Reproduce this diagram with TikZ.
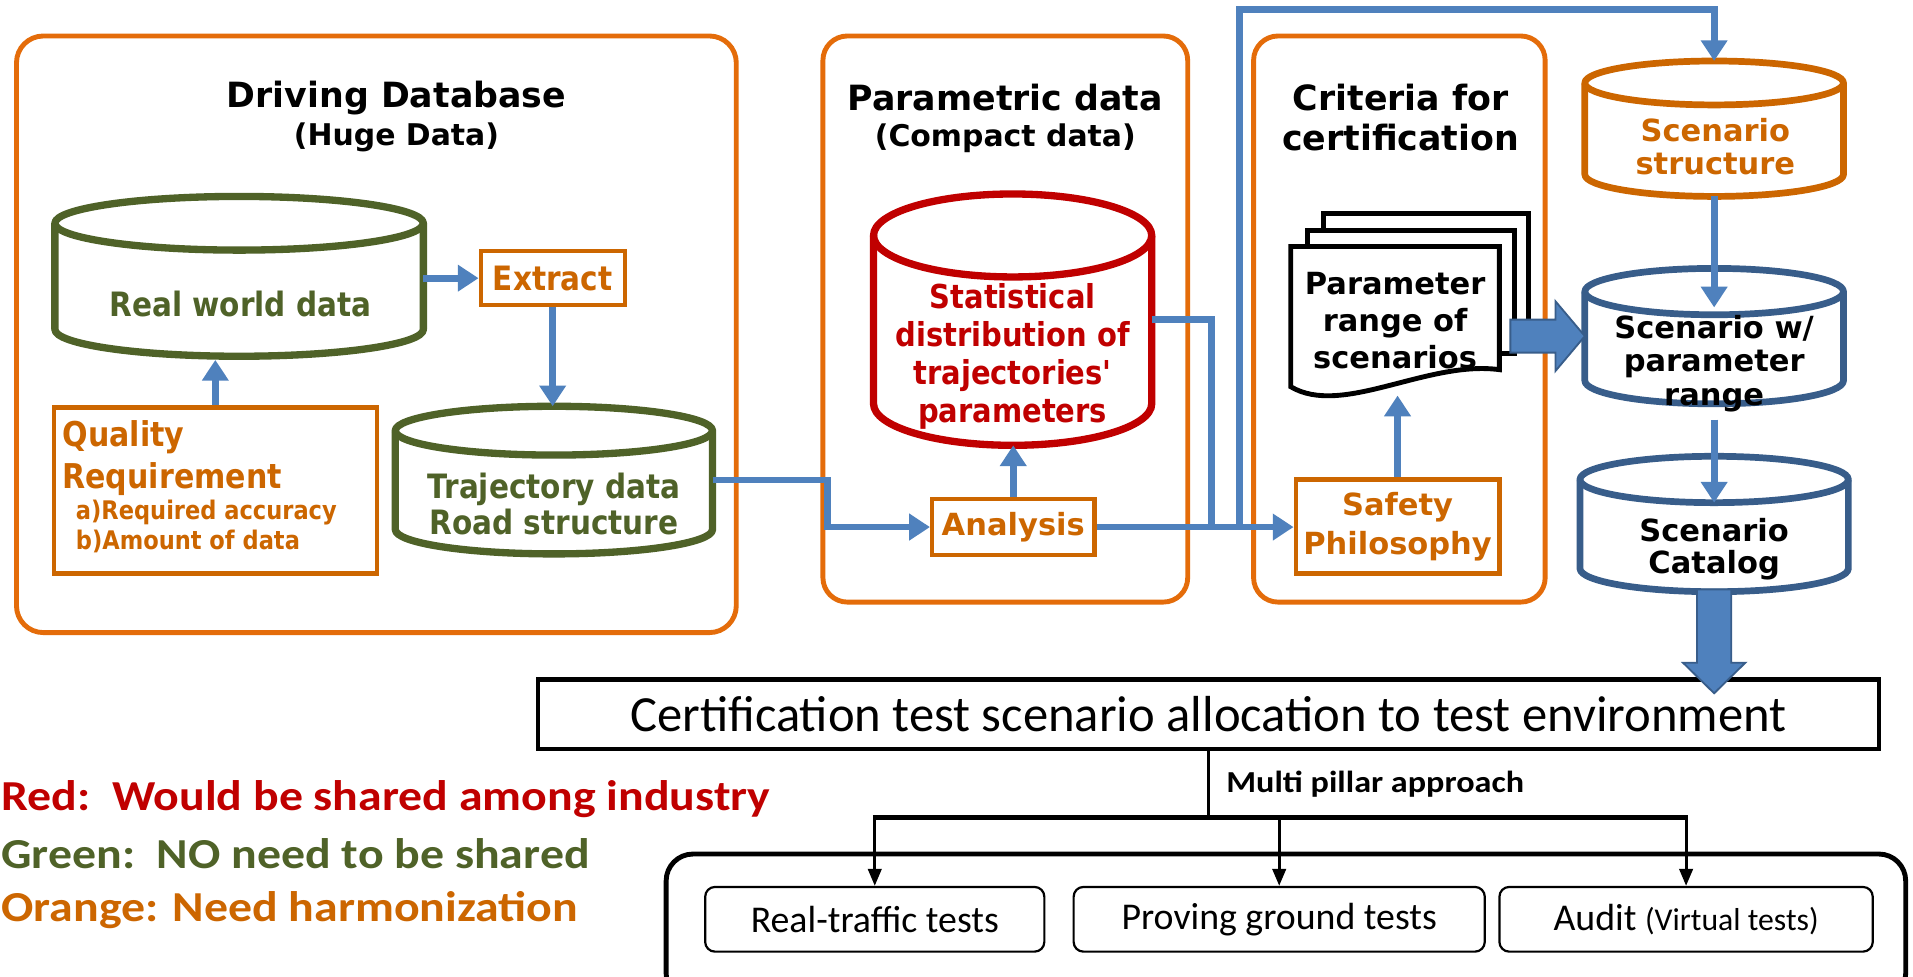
\documentclass[tikz,border=0pt]{standalone}
\usepackage{fontspec}
\setmainfont{DejaVu Sans}
\newfontfamily\vfont{DejaVu Sans}
\newfontfamily\nfont[FakeStretch=0.88]{DejaVu Sans}
\newfontfamily\cfont{Carlito}
\newfontfamily\wfont[FakeStretch=1.12]{Carlito}
\usetikzlibrary{arrows.meta,calc}

\definecolor{frameorange}{HTML}{E46C0A}
\definecolor{darkorange}{HTML}{CC6600}
\definecolor{leafgreen}{HTML}{4F6228}
\definecolor{deepred}{HTML}{C00000}
\definecolor{flowblue}{HTML}{4F81BD}
\definecolor{navyedge}{HTML}{385D8A}

\newcommand\fs[2]{\fontsize{#1}{#2}\selectfont}

% cylinder: #1 name, #2 style, #3 centre x, #4 top-ellipse y, #5 bottom-ellipse y, #6 x radius, #7 y radius (y counted downwards)
\newcommand\drum[7]{%
  \draw[#2, fill=white, line join=round] (#3-#6,-#4) -- (#3-#6,-#5)
     arc[start angle=180, end angle=360, x radius=#6, y radius=#7]
     -- (#3+#6,-#4)
     arc[start angle=0, end angle=180, x radius=#6, y radius=#7] -- cycle;
  \draw[#2] (#3-#6,-#4) arc[start angle=180, end angle=360, x radius=#6, y radius=#7];
  \node[inner sep=0, outer sep=0, minimum width={2*#6}, minimum height={#5-#4+2*#7}] (#1) at (#3,{-(#4+#5)/2}) {};
}

\begin{document}
\begin{tikzpicture}[x=1pt, y=1pt,
  frame/.style={draw=frameorange, line width=4pt, rounded corners=22pt, inner sep=0},
  tagbox/.style={draw=darkorange, line width=3.5pt, text=darkorange, inner sep=0,
                 font=\nfont\bfseries\fs{27.5}{30}},
  phbox/.style={draw=darkorange, line width=3.5pt, text=darkorange, inner sep=0, align=center,
                 font=\vfont\bfseries\fs{25}{32}},
  title/.style={font=\vfont\bfseries\fs{28.5}{34}, inner sep=0},
  subtitle/.style={font=\vfont\bfseries\fs{24.5}{28}, inner sep=0},
  narrowtext/.style={font=\nfont\bfseries\fs{27.5}{30}, inner sep=0, align=center},
  boldtext/.style={font=\vfont\bfseries\fs{25}{27}, inner sep=0, align=center},
  greendrum/.style={draw=leafgreen, line width=6pt},
  reddrum/.style={draw=deepred, line width=6pt},
  orangedrum/.style={draw=darkorange, line width=5.5pt},
  bluedrum/.style={draw=navyedge, line width=5.5pt},
  flowline/.style={draw=flowblue, line width=5.5pt},
  flow/.style={flowline, -{Triangle[length=17pt, width=21pt]}},
  blockarrow/.style={fill=flowblue, draw=navyedge, line width=1.5pt, line join=miter},
  sheet/.style={draw=black, line width=4pt, line join=miter},
  treeline/.style={draw=black, line width=3.5pt},
  treearrow/.style={draw=black, line width=2.5pt, -{Triangle[length=14pt, width=11pt]}},
  testbox/.style={draw=black, line width=1.8pt, rounded corners=8pt, minimum height=53pt,
                  font=\cfont\fs{31}{34}, inner sep=0},
  legend/.style={font=\wfont\bfseries\fs{35}{40}, anchor=west, inner sep=0}
]
\clip (0,0) rectangle (1568,-800);
\fill[white] (0,0) rectangle (1568,-800);

% ---------- the three orange group frames ----------
\node[frame, minimum width=590pt, minimum height=489pt] (ddb) at (308.5,-274) {};
\node[frame, minimum width=299pt, minimum height=464pt, rounded corners=20pt] (pmd) at (824,-261.5) {};
\node[frame, minimum width=239pt, minimum height=464pt, rounded corners=20pt] (crt) at (1147,-261.5) {};

\node[title] (ddbtitle) at (325,-80) {Driving Database};
\node[subtitle] (ddbsub) at (325,-113) {(Huge Data)};
\node[title] (pmdtitle) at (824,-80) {Parametric data};
\node[subtitle] (pmdsub) at (824,-113) {(Compact data)};
\node[title] (crttitle) at (1148,-80) {Criteria for};
\node[title] (crtsub) at (1148,-113) {certification};

% ---------- driving database ----------
\drum{rw}{greendrum}{196}{183}{270}{151}{22}
\node[narrowtext, text=leafgreen] (rwtext) at (197,-249) {Real world data};
\drum{tr}{greendrum}{454}{353}{434}{130}{20}
\node[narrowtext, text=leafgreen, font=\nfont\bfseries\fs{27.5}{30}] (trtext) at (454,-413) {Trajectory data\\Road structure};

\node[tagbox, minimum width=118pt, minimum height=44pt] (ex) at (453,-228) {Extract};
\node[tagbox, minimum width=265pt, minimum height=136pt] (qr) at (176.5,-402) {};
\node[anchor=west, inner sep=0, text=darkorange, font=\nfont\bfseries\fs{28}{30}] (qr1) at (51,-358) {Quality};
\node[anchor=west, inner sep=0, text=darkorange, font=\nfont\bfseries\fs{28}{30}] (qr2) at (51,-393) {Requirement};
\node[anchor=west, inner sep=0, text=darkorange, font=\nfont\bfseries\fs{21}{24}] (qr3) at (62,-420) {a)Required accuracy};
\node[anchor=west, inner sep=0, text=darkorange, font=\nfont\bfseries\fs{21}{24}] (qr4) at (62,-444) {b)Amount of data};

% ---------- parametric data ----------
\drum{st}{reddrum}{830}{193}{331}{114}{34}
\node[narrowtext, text=deepred, font=\nfont\bfseries\fs{27}{31}] (sttext) at (830,-292)
  {Statistical\\distribution of\\trajectories'\\parameters};
\node[tagbox, font=\vfont\bfseries\fs{25}{28}, minimum width=133pt, minimum height=46pt] (an) at (830.5,-432) {Analysis};

% ---------- criteria for certification ----------
\path[fill=white] (1085,-175) rectangle (1253,-285);
\draw[sheet] (1085,-189) -- (1085,-175) -- (1253,-175) -- (1253,-285) -- (1241,-285);
\path[fill=white] (1072,-189) rectangle (1241,-290);
\draw[sheet] (1072,-202) -- (1072,-189) -- (1241,-189) -- (1241,-290) -- (1229,-290);
\draw[sheet, fill=white] (1058,-202) -- (1229,-202) -- (1229,-303)
   .. controls (1170,-295) and (1100,-342) .. (1058,-317) -- cycle;
\node[boldtext, font=\vfont\bfseries\fs{25}{30.5}, minimum width=171pt, minimum height=122pt] (doc) at (1143.5,-263)
  {Parameter\\range of\\scenarios};

\node[phbox, minimum width=167pt, minimum height=77pt] (sp) at (1145.5,-431.5) {Safety\\Philosophy};

% ---------- scenario chain ----------
\drum{ss}{orangedrum}{1405}{68}{143}{106}{18}
\node[boldtext, text=darkorange, font=\vfont\bfseries\fs{25}{27}] (sstext) at (1406,-120) {Scenario\\structure};
\drum{sw}{bluedrum}{1405}{239}{312}{106}{19}
\drum{sc}{bluedrum}{1405}{393}{466}{110}{19}
\node[boldtext, font=\vfont\bfseries\fs{25}{26}] (sctext) at (1405,-450) {Scenario\\Catalog};

% ---------- blue flow connectors ----------
\draw[flow] (rw.east |- ex.west) -- (ex.west);
\draw[flow] (ex.south) -- (ex.south |- tr.north);
\draw[flow] (qr.north) -- ([yshift=-3pt]qr.north |- rw.south);
\draw[flow] (tr.east) -- ++(94,0) |- (an.west);
\draw[flow] (an.north) -- (an.north |- st.south);
\coordinate (j1) at (993,-432);
\coordinate (j2) at (1016,-432);
\draw[flowline] (st.east) -| (j1);
\draw[flow] (an.east) -- (an.east -| sp.west);
\draw[flow] (j2) -- (j2 |- 0,-8) -| (ss.north);
\draw[flow] (sp.north) -- (sp.north |- doc.south);
\draw[flow] (ss.south) -- ([yshift=-32pt]sw.north);
\draw[flow] ([yshift=-13pt]sw.south) -- ([yshift=-38pt]sc.north);

\node[boldtext, font=\vfont\bfseries\fs{25}{27.5}] (swtext) at (1405,-298) {Scenario w/\\parameter\\range};

% wide arrows
\draw[blockarrow] (sw.west) -- ++(-24,28.5) -- ++(0,-15) -- ++(-37,0) -- ++(0,-27)
   -- ++(37,0) -- ++(0,-15) -- cycle;

% ---------- allocation and test environments ----------
\node[draw=black, line width=3.5pt, minimum width=1099pt, minimum height=57pt, inner sep=0,
      font=\cfont\fs{41.5}{44}] (cert) at (990.5,-585.5)
  {Certification test scenario allocation to test environment};
\draw[blockarrow] ([yshift=-13pt]cert.north -| sc.south) -- ++(-25.5,25) -- ++(11.5,0) -- ++(0,60)
   -- ++(28,0) -- ++(0,-60) -- ++(11.5,0) -- cycle;

\node[draw=black, line width=4pt, rounded corners=22pt, minimum width=1016pt, minimum height=120pt] (env) at (1054,-760) {};
\node[testbox, minimum width=278pt] (t1) at (717,-753.5) {Real-traffic tests};
\node[testbox, minimum width=337pt] (t2) at (1048.5,-753.5) {Proving ground tests};
\node[testbox, minimum width=306pt] (t3) at (1382,-753.5) {Audit {\fs{26}{30}(Virtual tests)}};

\draw[line width=3pt] (cert.south) -- (cert.south |- 0,-670) coordinate (bar);
\draw[treeline] ([xshift=-1.5pt]t1.north |- bar) -- ([xshift=1.5pt]t3.north |- bar);
\foreach \t in {t1,t2,t3} \draw[treearrow] (\t.north |- bar) -- (\t.north);
\node[anchor=west, inner sep=0, font=\wfont\bfseries\fs{25}{28}] (mpa) at (1005,-643) {Multi pillar approach};

% ---------- colour legend ----------
\node[legend, text=deepred] (lgred) at (1,-655) {Red:\ \ Would be shared among industry};
\node[legend, text=leafgreen] (lggreen) at (1,-700) {Green:\ \ NO need to be shared};
\node[legend, text=darkorange] (lgorange) at (1,-746) {Orange: Need harmonization};
\end{tikzpicture}
\end{document}
